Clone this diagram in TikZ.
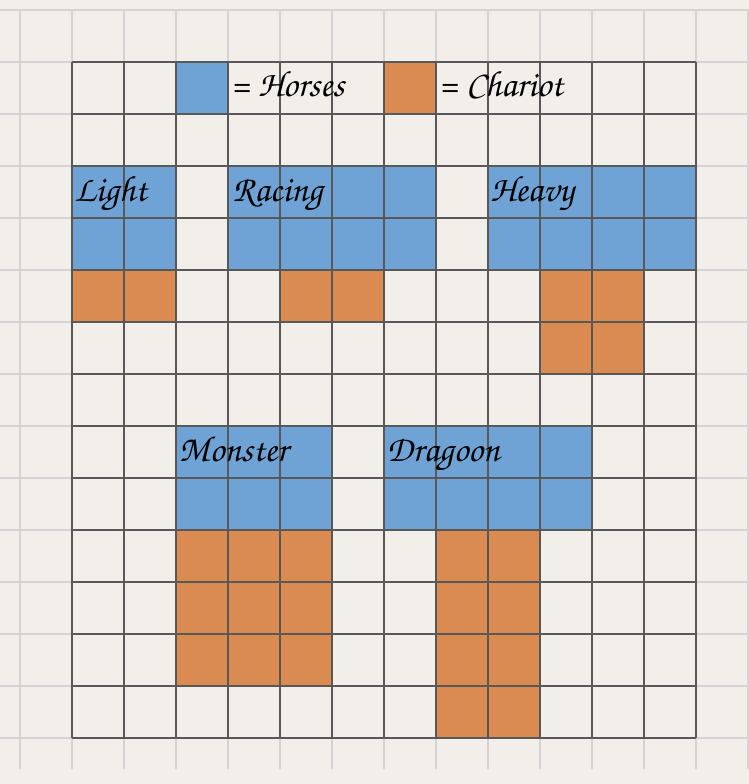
\documentclass[tikz,border=0pt]{standalone}
\usepackage[T1]{fontenc}
\usepackage{xcolor}
\definecolor{paperWhite}{HTML}{F2EFEA}
\definecolor{horseBlue}{HTML}{6FA3D5}
\definecolor{chariotOrange}{HTML}{D98B52}
\definecolor{gridInk}{HTML}{3A3A3A}
\usepackage{tikz}

\begin{document}
\begin{tikzpicture}[
		x=1cm, y=-1cm,
		horse/.style={fill=horseBlue},
		chariot/.style={fill=chariotOrange},
		gridfaint/.style={draw=gridInk!22, line width=0.6pt},
		griddark/.style={draw=gridInk!85, line width=0.8pt},
		unitname/.style={
			anchor=base west,
			inner sep=0pt,
			font=\fontfamily{pzc}\fontseries{mb}\fontshape{it}\fontsize{20}{23}\selectfont
		}
		]
		
		% paper
		\fill[paperWhite] (-0.385,-1.192) rectangle (14.019,13.885);
		\useasboundingbox (-0.385,-1.192) rectangle (14.019,13.885);
		
		% legend
		\fill[horse] (3,0) rectangle (4,1);
		\fill[chariot] (7,0) rectangle (8,1);
		
		% light
		\fill[horse] (1,2) rectangle (3,4);
		\fill[chariot] (1,4) rectangle (3,5);
		
		% racing
		\fill[horse] (4,2) rectangle (8,4);
		\fill[chariot] (5,4) rectangle (7,5);
		
		% heavy
		\fill[horse] (9,2) rectangle (13,4);
		\fill[chariot] (10,4) rectangle (12,6);
		
		% monster
		\fill[horse] (3,7) rectangle (6,9);
		\fill[chariot] (3,9) rectangle (6,12);
		
		% dragoon
		\fill[horse] (7,7) rectangle (11,9);
		\fill[chariot] (8,9) rectangle (10,13);
		
		% grid
		\foreach \c in {0,...,14}
			\draw[gridfaint] (\c,-1) -- (\c,13.6);
		\foreach \r in {-1,...,13}
			\draw[gridfaint] (-0.385,\r) -- (14.019,\r);
		\foreach \c in {1,...,13}
			\draw[griddark] (\c,0) -- (\c,13);
		\foreach \r in {0,...,13}
			\draw[griddark] (1,\r) -- (13,\r);
		
		% texts
		\node[unitname] (horseskey) at (4.05,0.67) {= Horses};
		\node[unitname] (chariotkey) at (8.05,0.67) {= Chariot};
		\node[unitname] (light) at (1.04,2.69) {Light};
		\node[unitname] (racing) at (4.08,2.69) {Racing};
		\node[unitname] (heavy) at (9.04,2.69) {Heavy};
		\node[unitname] (monster) at (3.05,7.69) {Monster};
		\node[unitname] (dragoon) at (7.05,7.69) {Dragoon};
		
	\end{tikzpicture}
\end{document}
